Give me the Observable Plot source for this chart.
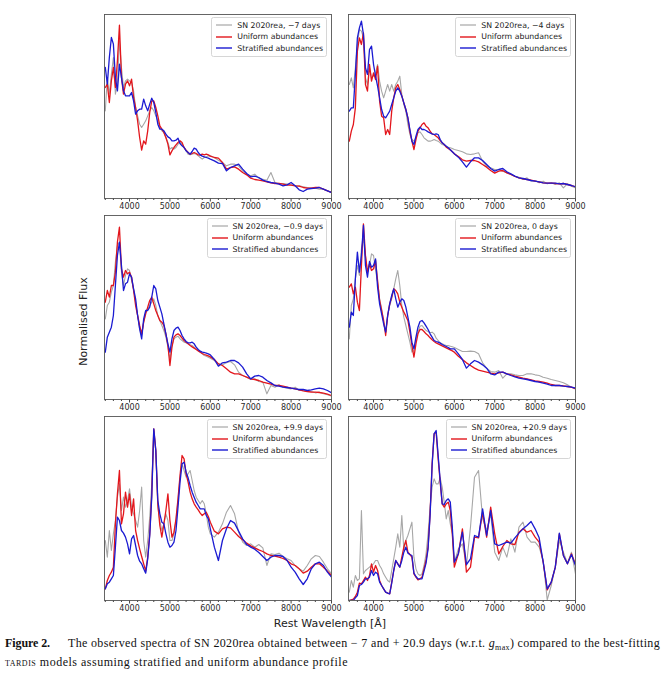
<!DOCTYPE html>
<html><head><meta charset="utf-8">
<script src="https://cdn.jsdelivr.net/npm/d3@7"></script>
<script src="https://cdn.jsdelivr.net/npm/@observablehq/plot@0.6"></script>
<style>
html,body{margin:0;padding:0;background:#fff;}
#fig{position:relative;width:665px;height:680px;overflow:hidden;background:#fff;font-family:"DejaVu Sans",sans-serif;color:#222;}
.panel{position:absolute;}
.panel svg{overflow:visible;}
.legend{position:absolute;border:1px solid #d6d6d6;border-radius:2.5px;background:rgba(255,255,255,0.85);padding:1.4px 3px 1.4px 4px;font-size:7.8px;color:#222;white-space:nowrap;}
.legend .row{display:flex;align-items:center;height:11.6px;}
.legend svg{width:16px;height:4px;margin-right:5px;flex:none;overflow:visible;}
.lab{position:absolute;font-size:11px;line-height:13px;color:#222;white-space:nowrap;}
.cap{position:absolute;font-family:"Liberation Serif",serif;font-size:12px;line-height:14px;color:#111;white-space:nowrap;}
.sc{font-variant:small-caps;}
</style>
</head><body>
<div id="fig"></div>
<script>
// ---------------- data ----------------
const wave = [3400,3450,3500,3550,3600,3650,3700,3750,3800,3850,3900,3950,4000,4050,4100,4150,4200,4250,4300,4350,4400,4450,4500,4550,4600,4650,4700,4750,4800,4850,4900,4950,5000,5050,5100,5150,5200,5250,5300,5350,5400,5450,5500,5550,5600,5650,5700,5750,5800,5850,5900,5950,6000,
6100,6200,6300,6400,6500,6600,6700,6800,6900,7000,7100,7200,7300,7400,7500,7600,7700,7800,7900,8000,8100,8200,8300,8400,8500,8600,8700,8800,8900,9000];

const majorTicks = [4000,5000,6000,7000,8000,9000];
const minorTicks = [3400,3600,3800,4200,4400,4600,4800,5200,5400,5600,5800,6200,6400,6600,6800,7200,7400,7600,7800,8200,8400,8600,8800];
const epochs = ["\u22127 days","\u22124 days","\u22120.9 days","0 days","+9.9 days","+20.9 days"];
const seriesNames = ["SN 2020rea, ","Uniform abundances","Stratified abundances"];

// panel 1 (-7 d)
const obs1 = [26.3,36.3,31.3,37.3,42.3,31.3,34.3,47.3,39.3,33.3,35.3,35.8,35.3,34.8,32.3,27.3,24.8,22.3,21.3,22.3,23.3,24.8,26.3,27.3,26.3,24.8,23.3,21.3,20.3,19.8,18.3,16.8,14.8,15.3,14.8,15.3,16.3,16.8,16.3,15.3,14.3,13.3,13.1,13.3,13.5,13.3,12.8,12.3,11.8,12.3,12.5,12.8,12.8,
12.3,11.5,10.8,9.8,10.3,10.3,9.8,8.3,7.3,6.8,7.3,6.1,5.8,5.5,7.8,4.8,4.5,4.5,4.3,4.1,3.8,3.8,3.5,3.3,3.1,3.1,2.8,2.8,2.3,1.8];
const uni1 = [33.3,34.3,28.8,35.3,39.3,33.3,41.3,52.0,36.3,31.3,34.3,35.3,33.8,35.8,30.3,27.3,23.3,18.3,14.5,17.3,16.3,20.3,25.8,29.3,29.3,27.3,24.8,21.8,20.8,19.8,18.3,16.3,13.1,14.3,15.3,16.1,16.8,17.3,16.8,15.3,14.5,13.8,13.3,13.5,13.8,13.5,13.1,13.0,13.3,13.1,13.3,13.1,12.7,
12.3,12.1,10.8,8.8,9.3,9.5,8.8,7.8,7.1,6.1,5.7,5.5,5.3,5.0,4.7,4.5,4.5,4.3,4.0,4.0,3.8,3.7,3.3,3.1,3.1,3.3,3.3,2.8,2.3,1.8];
const strat1 = [39.3,34.3,42.3,48.3,46.3,36.3,32.3,40.3,36.3,32.3,30.8,30.8,30.8,31.8,29.3,25.3,26.3,26.8,26.8,29.8,27.8,26.3,28.3,30.1,28.8,25.8,22.3,20.8,20.8,20.3,19.3,18.5,18.1,17.3,17.3,17.5,18.1,16.5,15.8,15.3,14.3,13.8,13.3,14.1,15.1,14.8,13.8,13.1,12.7,12.5,12.3,12.1,11.8,
11.3,10.6,10.5,8.3,9.3,9.8,10.3,8.8,7.5,6.5,6.7,6.3,5.5,5.1,4.8,4.6,4.3,3.8,4.1,4.8,3.8,2.6,2.1,2.8,3.0,3.1,3.3,2.8,2.3,1.8];

// panel 2 (-4 d)
const obs2 = [34.2,36.2,33.2,39.2,46.2,50.7,50.2,48.2,36.2,34.2,39.2,36.2,36.7,37.7,40.2,35.2,32.2,30.2,32.2,34.2,32.2,34.2,32.2,34.2,35.2,36.7,31.2,28.2,26.2,22.2,19.2,17.7,17.2,18.2,19.7,20.0,19.2,18.2,17.7,17.2,17.2,17.4,17.7,17.4,17.2,16.7,16.2,16.0,15.7,15.4,15.2,15.0,14.7,
14.4,14.0,13.4,13.2,13.4,13.7,11.2,9.7,9.2,8.7,8.7,8.2,7.7,7.2,6.7,6.4,5.7,6.2,5.2,5.4,4.7,5.2,4.4,4.7,4.2,4.7,3.2,4.4,3.7,3.2];
const uni2 = [17.2,20.2,22.2,27.2,44.2,48.2,46.2,49.7,34.2,32.2,40.2,35.2,37.7,35.7,39.7,29.2,24.7,24.2,19.2,20.7,19.2,26.2,30.2,33.2,34.2,32.7,30.7,28.7,26.7,24.2,20.2,17.2,14.7,17.7,20.2,21.2,22.2,22.7,21.7,21.2,20.2,19.4,19.2,18.7,18.2,17.4,16.7,16.2,15.4,15.0,14.6,14.0,13.4,
12.6,11.6,11.2,11.4,11.4,11.0,10.2,9.4,8.4,7.6,8.2,8.4,7.7,7.2,6.6,6.2,5.9,5.7,5.5,5.2,5.0,4.7,4.6,4.6,4.5,4.4,4.5,4.2,3.9,3.5];
const strat2 = [26.2,27.2,27.2,37.2,48.2,51.2,53.2,49.2,39.2,37.2,44.7,45.7,40.2,36.7,33.7,30.2,26.7,24.7,24.2,25.2,26.2,28.2,30.2,32.2,33.2,32.2,30.7,28.7,26.7,24.2,20.7,17.2,16.2,18.7,20.7,21.4,20.7,20.7,20.4,20.0,19.7,19.4,19.2,19.4,19.2,17.7,16.7,16.2,15.7,15.2,14.6,14.0,13.4,
12.4,11.0,9.4,11.0,12.2,12.2,11.4,10.2,9.0,8.2,8.7,9.0,8.0,7.4,6.7,6.2,6.0,5.7,5.4,5.2,5.0,4.7,4.6,4.6,4.6,4.4,4.5,4.2,3.9,3.5];

// panel 3 (-0.9 d)
const obs3 = [24.2,28.2,29.2,32.2,34.2,41.2,46.2,47.2,38.2,34.2,37.2,39.2,38.7,35.7,33.2,29.2,25.2,21.2,19.2,23.2,26.2,27.2,28.2,29.2,30.2,28.2,25.2,23.7,22.2,20.7,18.7,15.7,12.2,16.2,18.2,18.7,19.0,18.2,17.7,17.2,17.0,16.7,16.4,16.2,15.7,15.2,14.7,14.2,13.7,13.2,13.0,12.7,12.4,
11.7,10.7,10.4,11.0,11.4,10.4,8.2,7.2,6.7,6.0,6.2,5.4,5.2,1.7,4.2,3.7,4.4,3.7,3.4,3.2,3.7,2.7,2.7,2.4,2.4,2.0,2.2,1.7,1.4,1.0];
const uni3 = [29.2,32.7,30.7,34.2,34.2,38.2,47.2,51.7,39.2,36.7,38.7,37.7,38.2,36.7,32.7,28.2,25.2,22.2,19.7,23.2,25.7,27.7,29.7,30.7,28.7,26.7,25.2,23.7,23.2,22.2,19.7,16.2,10.2,15.7,18.7,19.4,19.7,19.2,18.4,17.7,17.2,16.7,16.2,15.8,15.4,15.0,14.6,14.2,13.8,13.5,13.3,13.1,12.8,
12.0,10.7,10.2,9.2,8.2,7.7,7.7,7.2,6.7,6.2,6.0,5.7,5.2,4.9,4.6,4.2,4.2,4.0,3.7,3.4,3.2,2.9,2.6,2.4,2.2,2.2,2.1,1.9,1.6,1.2];
const strat3 = [14.2,18.7,20.2,21.7,25.2,34.2,43.2,47.2,40.2,32.7,34.7,35.2,37.7,36.7,33.2,30.2,25.2,21.2,18.2,24.2,26.7,26.7,27.7,30.7,34.2,33.2,29.7,27.7,25.7,22.7,19.7,16.7,14.2,18.2,20.7,21.4,21.7,20.7,19.2,18.2,17.4,17.0,17.0,17.2,16.7,15.7,15.0,14.5,14.2,14.1,13.9,13.7,13.4,
12.0,10.0,11.0,11.2,11.7,11.7,11.0,9.7,7.7,6.2,7.0,7.2,6.7,5.7,5.0,4.2,4.0,3.7,3.6,3.4,3.2,3.0,3.0,2.7,2.9,3.2,3.4,3.2,2.7,2.0];

// panel 4 (0 d)
const obs4 = [18.2,28.2,30.2,36.2,40.2,37.2,45.2,48.2,43.2,38.2,40.2,43.7,43.2,38.7,35.2,30.2,27.2,23.2,20.2,25.2,28.2,30.2,33.2,36.2,38.7,34.2,28.2,24.7,22.2,19.7,17.2,14.2,14.7,18.2,20.2,22.0,22.2,21.4,20.7,20.4,20.0,20.2,19.7,18.4,17.7,17.0,16.7,16.4,16.2,16.2,16.0,15.8,15.6,
15.0,14.4,14.4,14.5,14.4,13.7,11.0,9.4,8.4,8.2,8.7,6.4,7.7,7.7,7.4,7.2,7.2,7.7,7.7,7.4,7.2,6.7,6.4,6.0,5.7,5.4,5.0,4.4,3.7,3.2];
const uni4 = [33.7,34.7,31.7,33.7,29.2,26.7,40.2,52.7,43.2,38.2,40.7,38.7,39.2,41.7,35.7,29.7,26.7,23.7,19.2,25.2,28.7,30.7,33.2,32.7,31.7,29.2,27.7,26.2,25.0,23.7,20.2,16.2,12.7,16.7,19.7,21.0,21.0,20.4,19.7,19.2,18.5,17.9,17.4,17.0,16.7,16.4,16.1,15.8,15.5,15.2,14.9,14.6,14.2,
13.0,12.0,11.0,10.2,9.4,8.8,8.5,8.2,7.9,7.7,8.0,8.2,7.7,7.4,7.0,6.7,6.4,6.2,5.9,5.6,5.4,5.2,4.9,4.5,4.2,4.2,4.1,3.9,3.7,3.2];
const strat4 = [21.7,26.2,25.2,36.2,44.2,38.2,43.2,52.2,40.2,36.7,41.4,39.7,40.2,42.2,33.7,28.7,25.7,22.7,20.2,25.2,28.7,31.2,33.2,30.2,27.7,29.2,30.2,29.7,27.7,24.7,21.7,17.2,15.2,18.7,21.7,23.4,23.7,23.0,22.0,21.0,19.7,18.7,17.7,17.4,17.2,16.9,16.5,16.2,15.9,15.6,15.2,15.2,15.2,
13.7,12.0,9.4,10.7,11.7,11.2,10.4,9.4,7.7,7.4,8.2,8.2,7.7,7.2,6.8,6.4,6.2,6.0,5.7,5.4,5.2,4.9,4.6,4.2,4.2,4.2,4.0,3.9,3.7,3.4];

// panel 5 (+9.9 d)
const obs5 = [18.0,13.0,21.0,15.0,20.0,24.0,31.0,35.0,27.0,31.0,28.0,30.0,33.5,28.0,26.0,24.0,22.0,27.0,34.0,18.0,13.0,18.0,25.0,35.0,51.0,45.0,28.0,24.0,21.0,23.0,26.0,24.0,18.0,18.0,20.0,24.0,30.0,37.0,41.0,39.0,37.0,38.0,39.0,36.0,33.0,31.0,30.0,29.0,30.0,29.0,26.0,22.0,20.0,
19.0,20.5,23.0,26.5,28.5,26.0,20.5,17.5,16.5,17.0,16.0,16.8,15.8,10.5,14.0,13.8,14.2,13.2,12.5,12.0,10.5,9.5,8.8,10.5,12.5,13.5,13.2,11.5,9.5,8.0];
const uni5 = [3.5,6.0,7.5,8.5,10.0,23.0,32.0,39.0,23.0,26.0,32.5,28.0,32.0,25.5,30.5,21.0,18.0,15.5,13.2,11.0,8.8,13.0,20.0,32.0,51.5,45.0,29.0,22.5,19.0,23.0,27.0,32.0,24.0,19.0,20.5,24.5,30.5,37.5,43.5,42.5,38.0,35.5,32.5,30.5,29.0,28.0,27.2,26.2,25.5,26.0,26.5,25.2,23.5,
20.8,20.0,21.5,22.0,21.8,20.5,19.2,18.2,17.2,16.4,15.8,15.2,14.7,14.0,13.5,13.3,13.0,12.6,12.0,11.0,10.5,9.5,8.2,8.8,10.0,11.0,11.0,10.0,8.8,7.5];
const strat5 = [3.5,5.0,5.5,6.5,7.5,16.0,25.0,24.0,21.0,20.2,19.0,17.0,14.0,18.5,19.5,16.5,13.5,11.8,11.0,9.5,8.2,12.5,19.5,31.0,51.5,45.0,30.0,26.0,23.5,23.0,20.0,17.5,16.0,16.5,17.5,21.0,28.0,35.5,41.0,41.5,38.5,36.8,34.5,32.5,31.0,29.5,28.5,27.5,27.5,27.5,25.5,24.5,21.5,
16.0,12.0,18.0,21.5,24.0,23.2,20.8,18.5,16.8,16.0,15.4,14.4,13.2,12.0,13.0,13.5,13.5,13.2,12.0,10.0,8.5,6.5,4.8,6.5,9.5,11.0,11.5,10.5,8.5,7.0];

// panel 6 (+20.9 d)
const obs6 = [2.5,6.0,4.0,7.5,6.0,6.5,27.0,8.0,9.0,9.5,10.0,10.5,11.0,12.0,12.0,10.5,9.5,8.0,7.0,6.0,5.5,9.0,12.5,16.0,20.0,16.0,25.5,15.0,18.0,19.5,21.5,23.5,13.0,9.5,8.0,7.5,8.0,10.5,14.0,20.0,28.0,34.0,36.5,35.0,35.0,36.8,34.0,29.5,24.5,27.0,23.0,20.0,11.5,
15.5,17.0,10.5,22.0,37.0,39.0,24.5,21.0,26.0,14.5,12.0,16.0,13.0,18.5,14.5,22.0,23.5,19.0,17.5,17.5,16.0,12.0,0.2,4.5,10.0,18.0,14.5,11.2,14.5,8.0];
const uni6 = [0.0,0.2,0.4,1.2,2.5,5.2,5.0,6.0,7.0,6.0,7.5,11.0,8.5,10.5,9.0,6.0,4.5,3.5,2.5,2.2,2.0,5.5,9.0,12.0,11.0,10.0,13.0,16.0,18.0,14.5,13.8,13.0,8.0,7.0,6.2,6.5,7.0,9.5,12.0,16.0,26.0,41.0,50.0,50.5,42.5,35.5,29.0,28.0,29.0,29.5,27.0,20.0,10.0,
14.0,21.5,8.5,10.0,19.0,18.8,26.5,19.0,28.0,20.0,14.0,16.2,18.0,17.0,16.8,20.5,21.5,20.5,21.0,19.0,17.5,11.5,3.2,5.5,10.0,20.0,13.5,11.0,14.0,10.8];
const strat6 = [0.0,0.0,0.0,0.8,1.5,4.5,4.8,5.5,6.5,6.5,7.0,9.0,7.5,8.5,8.0,5.5,4.5,3.5,2.5,2.2,2.0,5.2,9.0,12.0,11.0,10.0,12.0,14.5,16.0,14.2,13.8,13.5,8.2,7.2,6.5,6.5,6.5,8.8,11.2,15.5,25.5,40.5,50.0,51.0,43.5,36.0,29.0,28.8,30.0,30.5,29.5,22.0,11.5,
14.0,20.5,10.8,12.5,19.5,19.0,27.5,19.5,27.0,17.0,16.5,17.0,17.5,17.2,18.8,20.2,21.5,22.5,23.7,21.5,18.8,11.5,3.5,5.5,10.0,20.2,13.5,11.0,13.8,10.5];

const panels = [
  {obs: obs1, uni: uni1, strat: strat1, epoch: epochs[0]},
  {obs: obs2, uni: uni2, strat: strat2, epoch: epochs[1]},
  {obs: obs3, uni: uni3, strat: strat3, epoch: epochs[2]},
  {obs: obs4, uni: uni4, strat: strat4, epoch: epochs[3]},
  {obs: obs5, uni: uni5, strat: strat5, epoch: epochs[4]},
  {obs: obs6, uni: uni6, strat: strat6, epoch: epochs[5]}
];

// ---------------- layout / style ----------------
const GRAY = "#a7a7a7", RED = "#e3161c", BLUE = "#1b1bd2";
const W = 227, H = 184, ML = 14, MR = 14, MT = 2, MB = 18;
const frameOrigins = [[104,14],[348,14],[104,215],[348,215],[104,416],[348,416]];
const fig = document.getElementById("fig");

function rows(arr){ return wave.map((w,i) => ({w, f: arr[i]})); }

panels.forEach((p, k) => {
  const [fx, fy] = frameOrigins[k];
  const chart = Plot.plot({
    width: W + ML + MR, height: H + MT + MB,
    marginLeft: ML, marginRight: MR, marginTop: MT, marginBottom: MB,
    x: {domain: [3380, 9000]},
    y: {domain: [0, 55.2], axis: null},
    style: {fontFamily: "DejaVu Sans", fontSize: "8px", color: "#2a2a2a", background: "transparent", overflow: "visible"},
    marks: [
      Plot.line(rows(p.obs), {x: "w", y: "f", stroke: GRAY, strokeWidth: 1.1, clip: true}),
      Plot.line(rows(p.uni), {x: "w", y: "f", stroke: RED, strokeWidth: 1.3, clip: true}),
      Plot.line(rows(p.strat), {x: "w", y: "f", stroke: BLUE, strokeWidth: 1.3, clip: true}),
      Plot.axisX({ticks: minorTicks, tickSize: 2, tickFormat: () => "", label: null, stroke: "#444"}),
      Plot.axisX({ticks: majorTicks, tickSize: 3.5, tickPadding: 1.5, tickFormat: "d", label: null, stroke: "#444"}),
      Plot.frame({stroke: "#555", strokeWidth: 0.9})
    ]
  });
  const holder = document.createElement("div");
  holder.className = "panel";
  holder.style.left = (fx - ML) + "px";
  holder.style.top = (fy - MT) + "px";
  holder.appendChild(chart);
  fig.appendChild(holder);

  // legend
  const lg = document.createElement("div");
  lg.className = "legend";
  lg.style.right = (665 - (fx + W) + 4) + "px";
  lg.style.top = (fy + 3) + "px";
  const entries = [[GRAY, seriesNames[0] + p.epoch, 1.2], [RED, seriesNames[1], 1.4], [BLUE, seriesNames[2], 1.4]];
  entries.forEach(([c, t, sw]) => {
    const r = document.createElement("div");
    r.className = "row";
    r.innerHTML = `<svg viewBox="0 0 16 4"><line x1="0" y1="2" x2="16" y2="2" stroke="${c}" stroke-width="${sw}"/></svg><span>${t}</span>`;
    lg.appendChild(r);
  });
  fig.appendChild(lg);
});

// axis labels
const yl = document.createElement("div");
yl.className = "lab";
yl.textContent = "Normalised Flux";
fig.appendChild(yl);
const yw = yl.getBoundingClientRect().width, yh = yl.getBoundingClientRect().height;
yl.style.left = (83 - yw/2) + "px";
yl.style.top = (321 - yh/2) + "px";
yl.style.transform = "rotate(-90deg)";

const xl = document.createElement("div");
xl.className = "lab";
xl.textContent = "Rest Wavelength [\u00c5]";
fig.appendChild(xl);
const xw = xl.getBoundingClientRect().width;
xl.style.left = (330 - xw/2) + "px";
xl.style.top = "617px";

// caption
const c1a = document.createElement("div");
c1a.className = "cap";
c1a.innerHTML = "<b>Figure 2.</b>";
c1a.style.left = "5px"; c1a.style.top = "636px";
fig.appendChild(c1a);
const c1b = document.createElement("div");
c1b.className = "cap";
c1b.innerHTML = "The observed spectra of SN 2020rea obtained between \u2212 7 and + 20.9 days (w.r.t. <i>g</i><sub style=\"font-size:8px;line-height:0\">max</sub>) compared to the best-fitting";
c1b.style.left = "68px"; c1b.style.top = "636px";
fig.appendChild(c1b);
const c2 = document.createElement("div");
c2.className = "cap";
c2.innerHTML = "<span class=\"sc\">tardis</span> models assuming stratified and uniform abundance profile";
c2.style.left = "5px"; c2.style.top = "655px";
fig.appendChild(c2);

function fit(el, target){
  el.style.letterSpacing = "0px";
  const w = el.getBoundingClientRect().width;
  const n = el.textContent.length;
  el.style.letterSpacing = ((target - w) / n) + "px";
}
function fitAll(){ fit(c1a, 45); fit(c1b, 592); fit(c2, 343); }
fitAll();
if (document.fonts && document.fonts.ready) document.fonts.ready.then(fitAll);
</script>
</body></html>
